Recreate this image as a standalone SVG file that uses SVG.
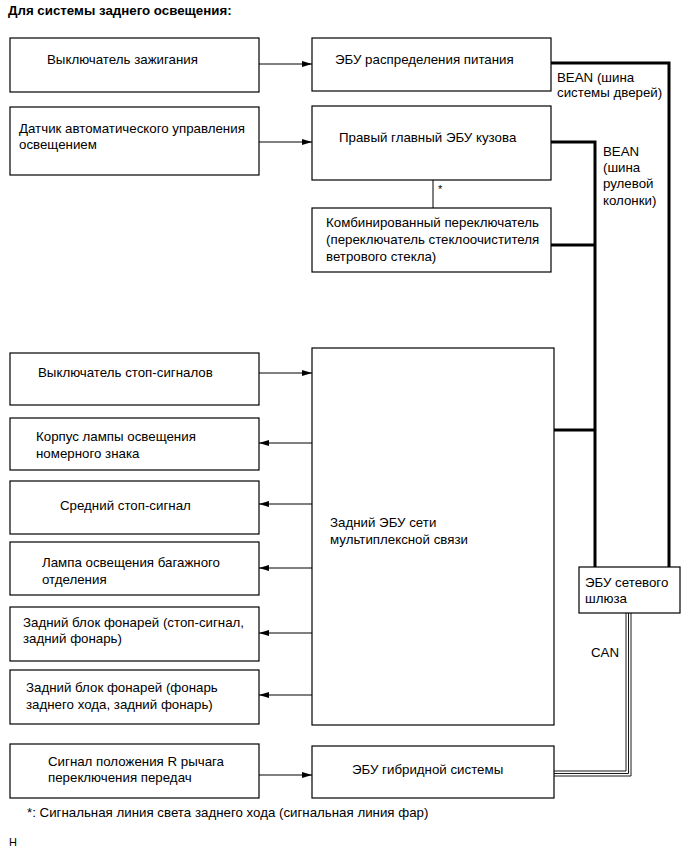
<svg xmlns="http://www.w3.org/2000/svg" width="691" height="855" viewBox="0 0 691 855">
<style>
text{font-family:"Liberation Sans",Arial,sans-serif;font-size:13.3px;fill:#000}
.b rect{fill:#fff;stroke:#000;stroke-width:1.2}
.t{fill:none;stroke:#000;stroke-width:1}
.bus{fill:none;stroke:#000;stroke-width:3}
.can{fill:none;stroke:#000;stroke-width:0.9}
</style>
<defs>
<marker id="ah" viewBox="0 0 10 6" refX="10" refY="3" markerWidth="10" markerHeight="6" markerUnits="userSpaceOnUse" orient="auto">
<path d="M0,0L10,3L0,6z" fill="#000"/>
</marker>
</defs>
<text x="8" y="15" style="font-weight:bold">Для системы заднего освещения:</text>

<g id="connectors">
<line class="t" x1="259" y1="64" x2="312" y2="64" marker-end="url(#ah)"/>
<line class="t" x1="259" y1="142" x2="312" y2="142" marker-end="url(#ah)"/>
<line class="t" x1="433" y1="180" x2="433" y2="208"/>
<text x="438" y="193" style="font-size:11px">*</text>
<polyline class="bus" points="551,63 669,63 669,567"/>
<polyline class="bus" points="551,142 595,142 595,567"/>
<line class="bus" x1="551" y1="245" x2="595" y2="245"/>
<line class="bus" x1="554" y1="430" x2="595" y2="430"/>
<line class="t" x1="259" y1="373" x2="312" y2="373" marker-end="url(#ah)"/>
<line class="t" x1="312" y1="443" x2="259" y2="443" marker-end="url(#ah)"/>
<line class="t" x1="312" y1="504" x2="259" y2="504" marker-end="url(#ah)"/>
<line class="t" x1="312" y1="568" x2="259" y2="568" marker-end="url(#ah)"/>
<line class="t" x1="312" y1="633" x2="259" y2="633" marker-end="url(#ah)"/>
<line class="t" x1="312" y1="695" x2="259" y2="695" marker-end="url(#ah)"/>
<line class="t" x1="259" y1="775" x2="312" y2="775" marker-end="url(#ah)"/>
<polyline class="can" points="626,613 626,771 554,771"/>
<polyline class="can" points="628.5,613 628.5,773.5 554,773.5"/>
<polyline class="can" points="631,613 631,776 554,776"/>
<text x="557" y="82">BEAN (шина</text>
<text x="557" y="97">системы дверей)</text>
<text x="603" y="156">BEAN</text>
<text x="603" y="172">(шина</text>
<text x="603" y="188">рулевой</text>
<text x="603" y="205">колонки)</text>
<text x="591" y="657">CAN</text>
</g>

<g id="n1" class="b"><rect x="10" y="38" width="249" height="54"/><text x="47" y="64">Выключатель зажигания</text></g>
<g id="n2" class="b"><rect x="312" y="38" width="239" height="53"/><text x="335" y="64">ЭБУ распределения питания</text></g>
<g id="n3" class="b"><rect x="10" y="107" width="249" height="68"/><text x="19" y="133">Датчик автоматического управления</text><text x="19" y="149">освещением</text></g>
<g id="n4" class="b"><rect x="312" y="106" width="239" height="74"/><text x="339" y="142">Правый главный ЭБУ кузова</text></g>
<g id="n5" class="b"><rect x="312" y="208" width="239" height="64"/><text x="326" y="227">Комбинированный переключатель</text><text x="326" y="244">(переключатель стеклоочистителя</text><text x="326" y="261">ветрового стекла)</text></g>
<g id="n6" class="b"><rect x="312" y="348" width="242" height="377"/><text x="330" y="527">Задний ЭБУ сети</text><text x="330" y="544">мультиплексной связи</text></g>
<g id="n7" class="b"><rect x="10" y="353" width="249" height="52"/><text x="38" y="377">Выключатель стоп-сигналов</text></g>
<g id="n8" class="b"><rect x="10" y="418" width="249" height="52"/><text x="36" y="441">Корпус лампы освещения</text><text x="36" y="458">номерного знака</text></g>
<g id="n9" class="b"><rect x="10" y="481" width="249" height="53"/><text x="60" y="510">Средний стоп-сигнал</text></g>
<g id="n10" class="b"><rect x="10" y="542" width="249" height="53"/><text x="42" y="567">Лампа освещения багажного</text><text x="42" y="584">отделения</text></g>
<g id="n11" class="b"><rect x="10" y="607" width="249" height="54"/><text x="23" y="627">Задний блок фонарей (стоп-сигнал,</text><text x="23" y="643">задний фонарь)</text></g>
<g id="n12" class="b"><rect x="10" y="670" width="249" height="54"/><text x="26" y="692">Задний блок фонарей (фонарь</text><text x="26" y="709">заднего хода, задний фонарь)</text></g>
<g id="n13" class="b"><rect x="579" y="567" width="101" height="46"/><text x="585" y="587">ЭБУ сетевого</text><text x="585" y="603">шлюза</text></g>
<g id="n14" class="b"><rect x="10" y="744" width="249" height="54"/><text x="48" y="766">Сигнал положения R рычага</text><text x="48" y="782">переключения передач</text></g>
<g id="n15" class="b"><rect x="312" y="746" width="242" height="52"/><text x="352" y="774">ЭБУ гибридной системы</text></g>

<text x="27" y="817">*: Сигнальная линия света заднего хода (сигнальная линия фар)</text>
<text x="9" y="846" style="font-size:11px">H</text>
</svg>
